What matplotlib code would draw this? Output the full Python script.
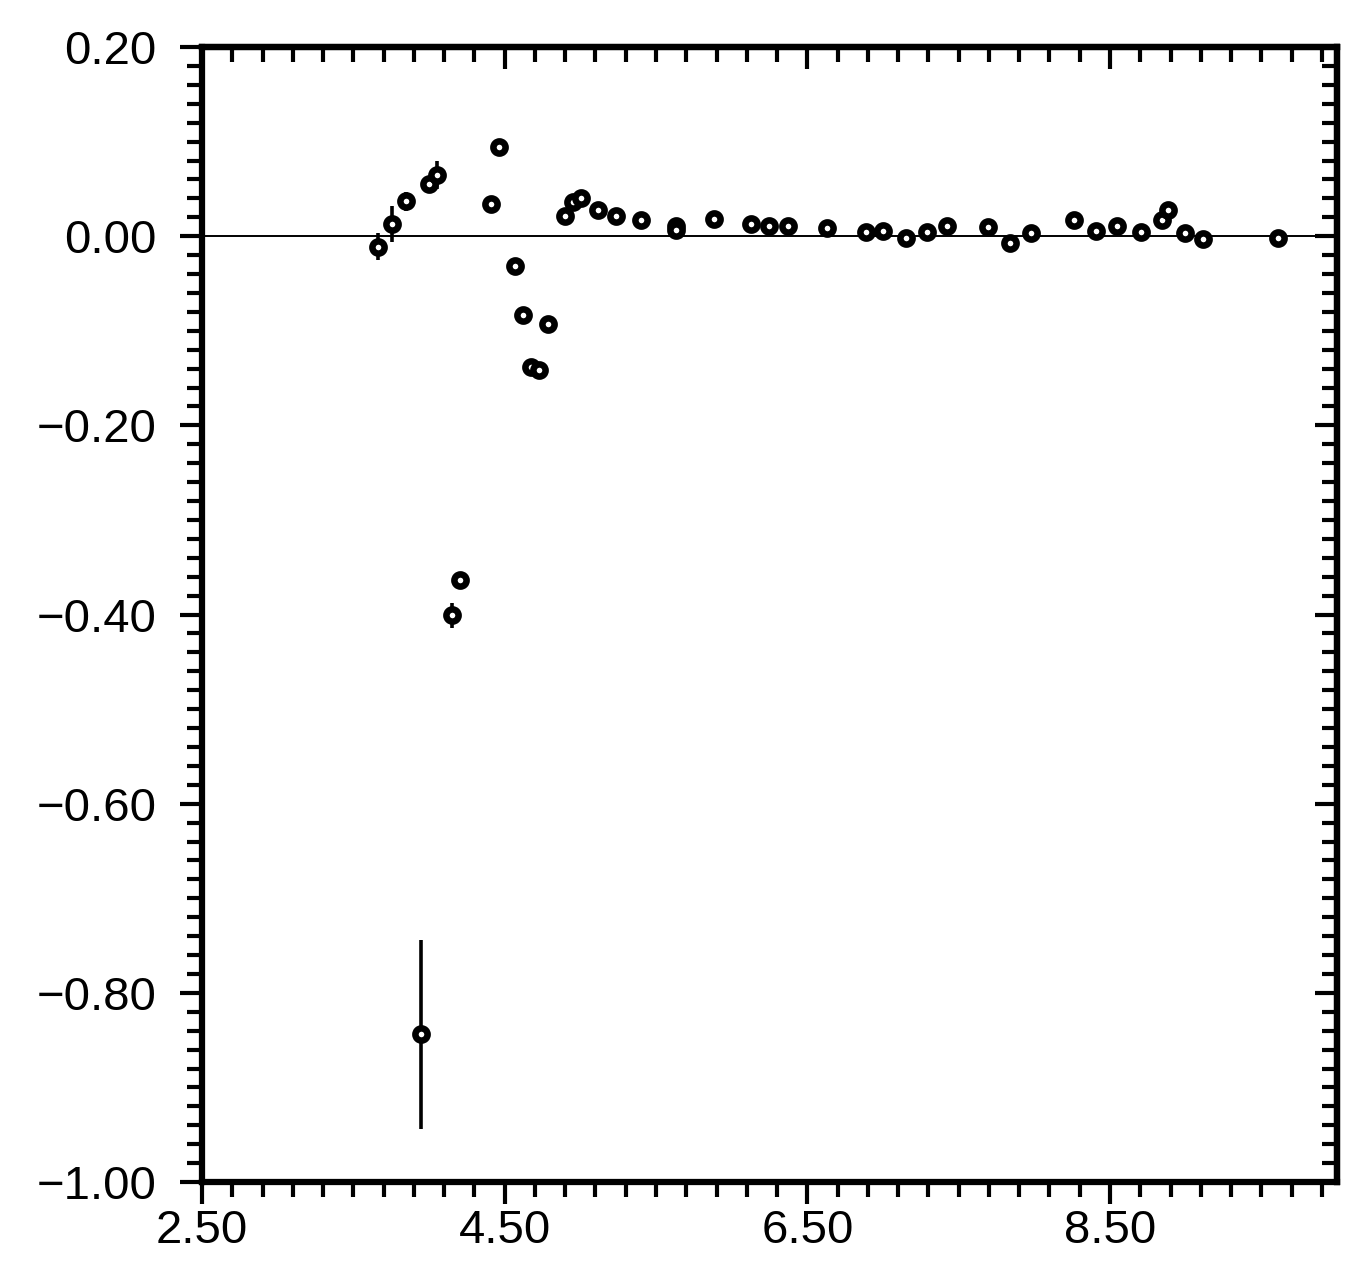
import matplotlib
matplotlib.use("Agg")
import matplotlib.pyplot as plt
from matplotlib.ticker import MultipleLocator, FuncFormatter

plt.rcParams['font.family'] = ['Liberation Sans', 'DejaVu Sans']

# data
x_vals = [3.66, 3.756, 3.851, 3.95, 4.00, 4.053, 4.15, 4.203, 4.412, 4.46,
          4.566, 4.62, 4.672, 4.73, 4.786, 4.896, 4.951, 5.006, 5.12, 5.233,
          5.404, 5.635, 5.635, 5.88, 6.128, 6.249, 6.375, 6.63, 6.887, 6.997,
          7.151, 7.29, 7.422, 7.697, 7.838, 7.976, 8.262, 8.405, 8.548, 8.702,
          8.845, 8.883, 8.995, 9.114, 9.609]
y_vals = [-0.011, 0.013, 0.037, -0.844, 0.055, 0.065, -0.401, -0.363, 0.034, 0.094,
          -0.032, -0.083, -0.138, -0.142, -0.093, 0.021, 0.036, 0.040, 0.028, 0.021,
          0.017, 0.011, 0.006, 0.018, 0.013, 0.011, 0.011, 0.009, 0.004, 0.005,
          -0.002, 0.004, 0.011, 0.010, -0.007, 0.003, 0.017, 0.005, 0.011, 0.004,
          0.017, 0.028, 0.003, -0.003, -0.002]
y_err = [0.014, 0.019, 0.010, 0.100, 0.005, 0.015, 0.013, 0.005, 0.004, 0.004,
         0.004, 0.004, 0.004, 0.004, 0.004, 0.004, 0.004, 0.004, 0.004, 0.004,
         0.004, 0.004, 0.004, 0.004, 0.004, 0.004, 0.004, 0.004, 0.004, 0.004,
         0.004, 0.004, 0.004, 0.004, 0.004, 0.004, 0.004, 0.004, 0.004, 0.004,
         0.004, 0.004, 0.004, 0.004, 0.004]

def fmt(v, pos):
    return ('%.2f' % v).replace('-', '\u2212')

fig = plt.figure(figsize=(13.72, 12.81), dpi=100)
ax = fig.add_axes([202/1372, 1 - 1182/1281, (1337-202)/1372, (1182-47)/1281])

ax.axhline(0, color='black', linewidth=1.4, zorder=1)
ax.errorbar(x_vals, y_vals, yerr=y_err, fmt='o', color='black', ecolor='black',
            elinewidth=2.6, capsize=0, markersize=8.8, markeredgewidth=4.7,
            markerfacecolor='white', markeredgecolor='black', zorder=3)

ax.set_xlim(2.5, 10.0)
ax.set_ylim(-1.0, 0.2)

for s in ax.spines.values():
    s.set_linewidth(4.5)

ax.xaxis.set_major_locator(MultipleLocator(2.0, offset=0.5))
ax.xaxis.set_minor_locator(MultipleLocator(0.2, offset=0.1))
ax.yaxis.set_major_locator(MultipleLocator(0.2))
ax.yaxis.set_minor_locator(MultipleLocator(0.02))
ax.xaxis.set_major_formatter(FuncFormatter(fmt))
ax.yaxis.set_major_formatter(FuncFormatter(fmt))

ax.tick_params(which='both', direction='out', top=False, right=False, width=3.0, labelsize=34)
ax.tick_params(which='major', length=15.5)
ax.tick_params(which='minor', length=10.5)
ax.tick_params(axis='y', pad=17)
ax.tick_params(axis='x', pad=4)

# top and right: ticks pointing down / left
top = ax.secondary_xaxis('top')
top.xaxis.set_major_locator(MultipleLocator(2.0, offset=0.5))
top.xaxis.set_minor_locator(MultipleLocator(0.2, offset=0.1))
top.tick_params(which='both', direction='in', width=3.0, labeltop=False)
top.tick_params(which='major', length=15.5)
top.tick_params(which='minor', length=10.5)
top.spines['top'].set_linewidth(4.5)

right = ax.secondary_yaxis('right')
right.yaxis.set_major_locator(MultipleLocator(0.2))
right.yaxis.set_minor_locator(MultipleLocator(0.02))
right.tick_params(which='both', direction='in', width=3.0, labelright=False)
right.tick_params(which='major', length=15.5)
right.tick_params(which='minor', length=10.5)
right.spines['right'].set_linewidth(4.5)

plt.savefig("out.png", dpi=100)
